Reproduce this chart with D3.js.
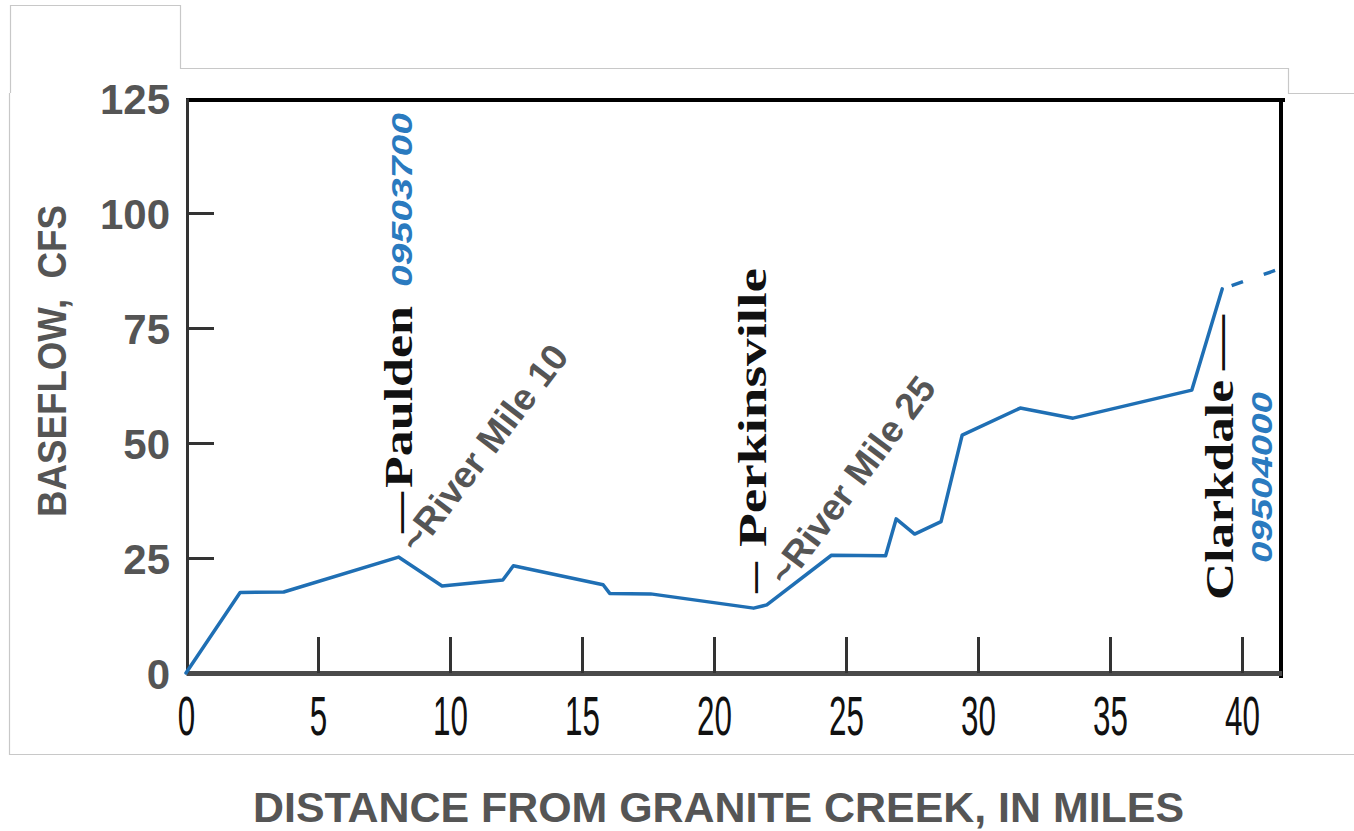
<!DOCTYPE html>
<html><head><meta charset="utf-8">
<script src="https://cdn.jsdelivr.net/npm/d3@7"></script>
<style>
html,body{margin:0;padding:0;background:#fff;}
svg{display:block;}
text{white-space:pre;}
</style></head>
<body>
<svg id="chart" width="1354" height="831"></svg>
<script>
// ---- data ----
const distance = [0, 2.05, 3.7, 8.05, 9.7, 12.0, 12.4, 15.8, 16.05, 17.6, 21.5, 22.0, 24.45, 26.5, 26.9, 27.6, 28.6, 29.4, 31.6, 33.6, 38.1, 39.25];
const baseflow = [0, 17.5, 17.6, 25.2, 18.9, 20.2, 23.3, 19.2, 17.3, 17.2, 14.1, 14.8, 25.6, 25.5, 33.5, 30.2, 32.9, 51.7, 57.6, 55.4, 61.5, 83.5];
const extDistance = [39.25, 41.5];
const extBaseflow = [83.5, 88.0];
const xTicks = [0, 5, 10, 15, 20, 25, 30, 35, 40];
const yTicks = [0, 25, 50, 75, 100, 125];
const yTitle = "BASEFLOW,  CFS";
const xTitle = "DISTANCE FROM GRANITE CREEK, IN MILES";
const places = ["Paulden", "Perkinsville", "Clarkdale"];
const gauges = ["09503700", "09504000"];
const riverMiles = ["~River Mile 10", "~River Mile 25"];

// ---- layout ----
const svg = d3.select("#chart");
const x = d3.scaleLinear().domain([0, 41.5]).range([186, 1281.6]);
const y = d3.scaleLinear().domain([0, 125]).range([673, 98]);

// decorative frame lines
svg.append("path")
  .attr("d", "M10.5,93 V5.5 H180.5 V68.5 H1288.5 V93.5 H1354 M9.5,93 V754.5 H1354")
  .attr("fill", "none").attr("stroke", "#c8c8c8").attr("stroke-width", 1.2);

// top and right borders
svg.append("line").attr("x1", 186).attr("x2", 1285).attr("y1", 100).attr("y2", 100)
  .attr("stroke", "#000").attr("stroke-width", 4);
svg.append("line").attr("x1", 1281).attr("x2", 1281).attr("y1", 98).attr("y2", 678)
  .attr("stroke", "#000").attr("stroke-width", 4);

// x axis
const gx = svg.append("g").attr("transform", `translate(0,${y(0)})`)
  .call(d3.axisBottom(x).tickValues(xTicks).tickSizeInner(-36).tickSizeOuter(0).tickFormat(d3.format("d")));
gx.select(".domain").attr("stroke", "#4a4a4a").attr("stroke-width", 5);
gx.selectAll(".tick line").attr("stroke", "#333").attr("stroke-width", 3)
  .attr("display", d => d === 0 ? "none" : null);
gx.selectAll(".tick text")
  .attr("y", 62).attr("dy", 0)
  .attr("transform", "scale(0.56,1)")
  .attr("fill", "#111")
  .style("font-family", "'Liberation Sans', Arial, sans-serif")
  .style("font-size", "56px");

// y axis
const gy = svg.append("g").attr("transform", `translate(${x(0) + 1},0)`)
  .call(d3.axisLeft(y).tickValues(yTicks).tickSizeInner(-27).tickSizeOuter(0).tickPadding(17));
gy.select(".domain").attr("stroke", "#333").attr("stroke-width", 3);
gy.selectAll(".tick line").attr("stroke", "#333").attr("stroke-width", 3)
  .attr("display", d => (d === 0 || d === 125) ? "none" : null);
gy.selectAll(".tick text")
  .attr("dy", "0.36em")
  .attr("fill", "#555")
  .style("font-family", "'Liberation Sans', Arial, sans-serif")
  .style("font-weight", "bold")
  .style("font-size", "42px");

// data line
const line = d3.line().x(d => x(d[0])).y(d => y(d[1]));
svg.append("path")
  .datum(distance.map((d, i) => [d, baseflow[i]]))
  .attr("d", line)
  .attr("fill", "none").attr("stroke", "#1f6fb4").attr("stroke-width", 3.5)
  .attr("stroke-linejoin", "round").attr("stroke-linecap", "round");
svg.append("path")
  .datum(extDistance.map((d, i) => [d, extBaseflow[i]]))
  .attr("d", line)
  .attr("fill", "none").attr("stroke", "#1f6fb4").attr("stroke-width", 3.5)
  .attr("stroke-dasharray", "12 22").attr("stroke-dashoffset", 24);

// axis titles
svg.append("text")
  .attr("transform", "translate(66,517) rotate(-90)")
  .attr("textLength", 312).attr("lengthAdjust", "spacingAndGlyphs")
  .attr("fill", "#555")
  .style("font-family", "'Liberation Sans', Arial, sans-serif")
  .style("font-weight", "bold").style("font-size", "40px")
  .text(yTitle);
svg.append("text")
  .attr("x", 253).attr("y", 822)
  .attr("textLength", 931).attr("lengthAdjust", "spacingAndGlyphs")
  .attr("fill", "#555")
  .style("font-family", "'Liberation Sans', Arial, sans-serif")
  .style("font-weight", "bold").style("font-size", "42.5px")
  .text(xTitle);

// vertical serif place labels
function vtext(tx, ty, str, len, opts) {
  const t = svg.append("text")
    .attr("transform", `translate(${tx},${ty}) rotate(-90)`)
    .attr("textLength", len).attr("lengthAdjust", "spacingAndGlyphs")
    .attr("fill", opts.fill)
    .style("font-family", opts.family)
    .style("font-weight", "bold")
    .style("font-style", opts.italic ? "italic" : "normal")
    .style("font-size", opts.size + "px")
    .text(str);
  return t;
}
const serif = {fill: "#111", family: "'Liberation Serif', 'Times New Roman', serif", size: 40};
const code = {fill: "#2a7abf", family: "'Liberation Sans', Arial, sans-serif", size: 30, italic: true};

vtext(412, 533, "\u2014", 41, serif);
vtext(412, 488, places[0], 182, serif);
vtext(766, 593, "\u2014", 31, serif);
vtext(766, 547, places[1], 279, serif);
vtext(1233, 600, places[2], 220, serif);
vtext(1233, 370, "\u2014", 55, serif);

vtext(412, 287, gauges[0], 174, code);
vtext(1272, 563, gauges[1], 171, code);

// diagonal river mile labels
function dtext(tx, ty, ang, str, len) {
  svg.append("text")
    .attr("transform", `translate(${tx},${ty}) rotate(${ang})`)
    .attr("textLength", len).attr("lengthAdjust", "spacingAndGlyphs")
    .attr("fill", "#555")
    .style("font-family", "'Liberation Sans', Arial, sans-serif")
    .style("font-weight", "bold").style("font-size", "37px")
    .text(str);
}
dtext(418, 555, -52.5, riverMiles[0], 250);
dtext(787, 588, -53, riverMiles[1], 250);
</script>
</body></html>
